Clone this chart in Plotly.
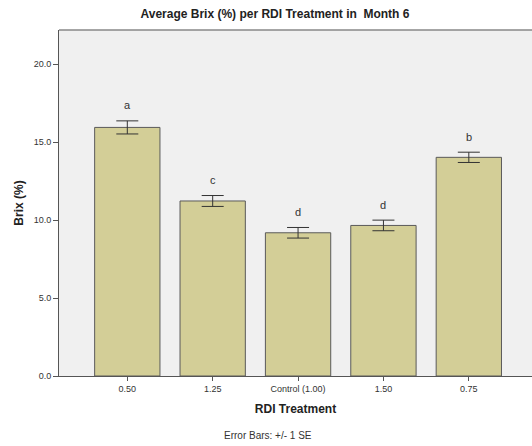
import plotly.graph_objects as go

categories = ["0.50", "1.25", "Control (1.00)", "1.50", "0.75"]
means = [15.95, 11.23, 9.19, 9.66, 14.03]
se = [0.42, 0.35, 0.34, 0.34, 0.33]
letters = ["a", "c", "d", "d", "b"]
y_ticks = [0, 5, 10, 15, 20]

FONT = "Liberation Sans, Arial, sans-serif"

fig = go.Figure()
fig.add_trace(go.Bar(
    x=categories, y=means, width=0.765,
    marker=dict(color="#d3ce97", line=dict(color="#5a5a5a", width=1)),
    error_y=dict(type="data", array=se, visible=True, color="#333333", thickness=1, width=11),
    showlegend=False,
))

for i, (m, s, l) in enumerate(zip(means, se, letters)):
    fig.add_annotation(x=i, y=m + s + 1.0, text=l, showarrow=False,
                       font=dict(family=FONT, size=11, color="#333333"), yanchor="middle")

fig.add_annotation(text="Error Bars: +/- 1 SE", xref="paper", yref="paper",
                   x=(268 - 59) / (532 - 59), y=-(436 - 376) / (376 - 29.5), showarrow=False,
                   font=dict(family=FONT, size=10, color="#333333"), yanchor="middle")

fig.update_layout(
    width=532, height=446,
    margin=dict(l=59, r=0, t=29.5, b=70),
    paper_bgcolor="white", plot_bgcolor="#f0f0f0",
    title=dict(text="<b>Average Brix (%) per RDI Treatment in  Month 6</b>",
               x=275 / 532, xanchor="center", y=1 - 14 / 446, yanchor="middle",
               font=dict(family=FONT, size=12, color="#222222")),
    font=dict(family=FONT, color="#333333"),
    xaxis=dict(type="category", range=[-0.80, 4.74], showline=True, linecolor="#555555", linewidth=1,
               ticks="outside", ticklen=4, tickcolor="#555555",
               tickfont=dict(size=9, color="#333333"),
               title=dict(text="<b>RDI Treatment</b>", font=dict(size=12, color="#222222"), standoff=11),
               mirror=False, showgrid=False),
    yaxis=dict(range=[0, 22.2], showline=True, linecolor="#555555", linewidth=1,
               ticks="outside", ticklen=5, tickcolor="#555555",
               tickvals=y_ticks, tickformat=".1f",
               tickfont=dict(size=9, color="#333333"),
               title=dict(text="<b>Brix (%)</b>", font=dict(size=12, color="#222222"), standoff=7),
               showgrid=False, zeroline=False),
)
fig.add_shape(type="line", xref="paper", yref="paper", x0=0, x1=1, y0=1, y1=1,
              line=dict(color="#888888", width=1.5))

fig.write_html("out.html")
